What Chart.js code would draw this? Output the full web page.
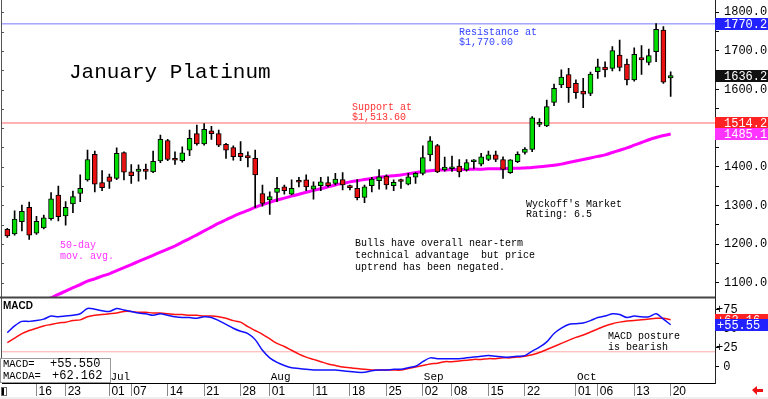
<!DOCTYPE html>
<html>
<head>
<meta charset="utf-8">
<title>January Platinum</title>
<style>
  html, body { margin: 0; padding: 0; background: #fff; }
  #wrap { position: relative; width: 768px; height: 399px; }
</style>
</head>
<body>
<div id="wrap"><canvas id="chart" width="768" height="399"></canvas></div>
<script src="https://cdn.jsdelivr.net/npm/chart.js@4/dist/chart.umd.min.js"></script>
<script>
// January platinum daily candles, Jun 10 - Oct 20, with 50-day MA and MACD
// x values are trading-day indexes (0 = Jun 10)

const opens  = [1238,1226,1258,1295,1228,1242,1266,1327,1273,1304,1331,1366,1432,1359,1374,1370,1437,1387,1388,1394,
                1387,1415,1468,1418,1416,1443,1486,1459,1493,1486,1458,1450,1435,1429,1422,1331,1314,1334,1348,1329,
                1361,1366,1342,1351,1359,1357,1367,1347,1344,1321,1351,1364,1376,1351,1363,1355,1373,1383,1431,1455,
                1392,1395,1402,1392,1413,1407,1419,1431,1419,1385,1413,1437,1445,1510,1506,1567,1612,1639,1616,1596,
                1590,1646,1658,1655,1689,1666,1625,1683,1670,1698,1754,1630];
const highs  = [1241,1286,1301,1309,1272,1275,1333,1350,1310,1337,1379,1443,1441,1390,1381,1449,1439,1406,1405,1407,
                1441,1482,1471,1439,1452,1495,1508,1512,1505,1495,1461,1454,1465,1439,1443,1353,1335,1373,1353,1366,
                1373,1379,1361,1373,1374,1383,1385,1353,1367,1353,1373,1393,1379,1366,1368,1383,1385,1454,1478,1458,
                1425,1428,1419,1419,1419,1435,1441,1441,1426,1419,1439,1450,1530,1525,1573,1614,1651,1655,1625,1629,
                1645,1679,1672,1711,1728,1679,1708,1714,1705,1771,1763,1646];
const lows   = [1217,1223,1234,1212,1225,1239,1262,1260,1249,1281,1310,1363,1335,1338,1344,1367,1366,1357,1363,1368,
                1385,1411,1416,1406,1412,1429,1456,1456,1471,1452,1422,1417,1416,1400,1295,1298,1277,1310,1329,1327,
                1348,1338,1316,1338,1348,1353,1340,1340,1314,1307,1335,1342,1342,1338,1344,1353,1357,1379,1415,1385,
                1389,1388,1374,1389,1396,1402,1416,1413,1370,1383,1411,1433,1439,1504,1504,1558,1605,1567,1577,1553,
                1584,1629,1633,1648,1648,1612,1622,1639,1664,1672,1616,1582];
const closes = [1221,1265,1285,1223,1259,1268,1317,1271,1295,1323,1344,1419,1355,1346,1362,1435,1386,1377,1394,1388,
                1414,1471,1419,1417,1436,1474,1459,1497,1486,1456,1443,1426,1426,1423,1379,1305,1323,1344,1338,1344,
                1360,1348,1351,1361,1351,1368,1353,1346,1320,1348,1368,1374,1353,1360,1362,1374,1383,1424,1467,1387,
                1399,1397,1387,1411,1415,1426,1431,1419,1393,1418,1432,1446,1527,1512,1556,1603,1632,1605,1592,1588,
                1640,1659,1651,1701,1657,1625,1691,1677,1688,1756,1619,1636.2];

// 50-day moving average
const ma50 = [1012,1021,1030,1039,1046,1054,1061,1070,1078,1087,1095,1104,1110,1117,1123,1131,1139,1147,1155,1163,
              1171,1179,1187,1195,1205,1214,1224,1234,1244,1254,1263,1272,1280,1287,1295,1302,1308,1314,1319,1324,
              1329,1334,1339,1343,1348,1353,1357,1361,1364,1367,1370,1373,1375,1377,1379,1382,1385,1388,1390,1392,
              1392,1393,1393,1393,1394,1394,1395,1395,1395,1396,1396,1397,1398,1400,1402,1404,1407,1411,1415,1419,
              1423,1427,1431,1437,1443,1449,1456,1463,1470,1476,1481,1485.1];

// MACD (blue) and its average (red)
const macd  = [45,54,60,60,61,63,67,66,67,68,70,77,76,74,73,77,75,73,71,70,
               68,70,68,66,65,65,64,66,65,61,56,51,47,44,36,22,12,6,2,-1,
               -2,-3,-4,-4,-4,-4,-5,-6,-7,-7,-5,-4,-4,-3,-3,-1,1,7,12,11,
               11,11,11,12,13,14,15,14,13,13,14,15,21,26,33,44,51,56,57,58,
               61,65,67,70,69,65,67,66,66,70,63,55.55];
const macda = [32,38,44,48,51,54,56,58,59,61,62,66,68,69,70,71,73,73,72,72,
               71,71,70,69,69,68,68,67,67,66,64,61,59,53,48,43,37,31,27,22,
               17,13,10,7,4,2,0,-1,-2,-3,-4,-4,-4,-4,-4,-2,0,2,4,5,
               7,7,8,9,10,10,11,11,12,12,13,14,16,19,23,27,31,35,39,42,
               46,50,54,57,59,60.5,61,62,63,64,64,62.162];

const resistance = 1770;
const support = 1513.6;
const macdRef = 20;

// date ticks along the bottom
const tickIdx  = [4,8,14,17,22,27,32,36,42,47,52,57,61,66,71,78,81,86,91];
const tickText = ['16','23','01','07','14','21','28','01','11','18','25','02','08','15','22','01','06','13','20'];
const monthIdx  = [14,36,57,78];
const monthText = ['Jul','Aug','Sep','Oct'];

const priceTicks = [1100,1150,1200,1250,1300,1350,1400,1450,1500,1550,1600,1650,1700,1750,1800];
const macdTicks = [0,25,50,75];

const X_MIN = -0.73, X_MAX = 97.08;
const UP = '#00dd00', DOWN = '#e81010';
const MONO = '"Liberation Mono", monospace';

Chart.defaults.font.family = MONO;
Chart.defaults.color = '#000';

const bodies = closes.map((c, i) => ({x: i, y: [opens[i], c]}));
const wicks = closes.map((c, i) => ({x: i, y: [lows[i], highs[i]]}));
const bodyColors = closes.map((c, i) => c >= opens[i] ? UP : DOWN);
const flat = (v) => [{x: X_MIN, y: v}, {x: X_MAX, y: v}];

function txt(c, s, x, y, font, color){
  c.font = font;
  c.fillStyle = color;
  c.fillText(s, x, y);
}

function tag(c, scale, value, label, bg, tx){
  const y = scale.getPixelForValue(value);
  c.fillStyle = bg;
  c.fillRect(715, Math.round(y) - 6, 53, 12);
  c.font = '12px ' + MONO;
  c.fillStyle = '#fff';
  c.textBaseline = 'middle';
  c.fillText(label, tx, Math.round(y) + 0.5);
  c.textBaseline = 'alphabetic';
}

// keep Chart.js from reserving room for half-labels at the edges
function noPad(s){
  s.paddingTop = 0; s.paddingBottom = 0; s.paddingLeft = 0; s.paddingRight = 0;
}

const overlay = {
  id: 'overlay',
  beforeDraw(chart){
    const c = chart.ctx;
    c.save();
    c.fillStyle = '#eeeeee';
    c.fillRect(0, 397, 768, 2);
    c.restore();
  },
  afterDatasetsDraw(chart){
    const c = chart.ctx;
    const xs = chart.scales.x, yp = chart.scales.yPrice;
    c.save();

    // frame: left edge and panel separator
    c.strokeStyle = '#555';
    c.lineWidth = 1;
    c.beginPath();
    c.moveTo(1.5, 0); c.lineTo(1.5, 383);
    for (const v of priceTicks){
      const y = Math.round(yp.getPixelForValue(v)) + 0.5;
      c.moveTo(1, y); c.lineTo(4, y);
    }
    c.stroke();
    c.strokeStyle = '#444';
    c.lineWidth = 2;
    c.beginPath();
    c.moveTo(0, yp.bottom); c.lineTo(715, yp.bottom);
    c.stroke();

    // annotations
    txt(c, 'January Platinum', 69, 78, '21px ' + MONO, '#000');
    txt(c, 'Resistance at', 459, 35, '10px ' + MONO, '#3344ff');
    txt(c, '$1,770.00', 459, 45, '10px ' + MONO, '#3344ff');
    txt(c, 'Support at', 352, 110, '10px ' + MONO, '#ff3333');
    txt(c, '$1,513.60', 352, 120, '10px ' + MONO, '#ff3333');
    txt(c, '50-day', 60, 248, '10px ' + MONO, '#ff33ff');
    txt(c, 'mov. avg.', 60, 259, '10px ' + MONO, '#ff33ff');
    txt(c, "Wyckoff's Market", 526, 207, '10px ' + MONO, '#000');
    txt(c, 'Rating: 6.5', 526, 217, '10px ' + MONO, '#000');
    txt(c, 'Bulls have overall near-term', 355, 246, '10px ' + MONO, '#000');
    txt(c, 'technical advantage  but price', 355, 258, '10px ' + MONO, '#000');
    txt(c, 'uptrend has been negated.', 355, 270, '10px ' + MONO, '#000');
    txt(c, 'MACD posture', 608, 339, '10px ' + MONO, '#000');
    txt(c, 'is bearish', 608, 350, '10px ' + MONO, '#000');
    txt(c, 'MACD', 3, 309, 'bold 10px "Liberation Sans", sans-serif', '#000');

    // month names inside the MACD panel
    monthIdx.forEach((d, k) => {
      txt(c, monthText[k], xs.getPixelForValue(d) + 1, 380, '11px ' + MONO, '#000');
    });

    // MACD readout box
    c.fillStyle = '#fff';
    c.fillRect(0, 358, 111, 25);
    c.strokeStyle = '#999';
    c.lineWidth = 1;
    c.strokeRect(0.5, 358.5, 110, 24);
    txt(c, 'MACD=', 3, 367, '10.5px ' + MONO, '#000');
    txt(c, '+' + macd[macd.length - 1].toFixed(3), 50, 367, '12px ' + MONO, '#000');
    txt(c, 'MACDA=', 3, 379, '10.5px ' + MONO, '#000');
    txt(c, '+' + macda[macda.length - 1].toFixed(3), 52, 379, '12px ' + MONO, '#000');
    c.restore();
  },
  afterDraw(chart){
    const c = chart.ctx;
    const yp = chart.scales.yPrice, ym = chart.scales.yMacd;
    c.save();
    tag(c, yp, 1770.2, '1770.2', '#2222ff', 724);
    tag(c, yp, closes[closes.length - 1], '1636.2', '#111', 724);
    tag(c, yp, 1514.2, '1514.2', '#ff2222', 724);
    tag(c, yp, ma50[ma50.length - 1], '1485.1', '#ff33ff', 724);
    tag(c, ym, macda[macda.length - 1], '+62.16', '#ff2222', 717);
    tag(c, ym, macd[macd.length - 1], '+55.55', '#2222ff', 717);

    // scroll glyph bottom left
    c.strokeStyle = '#666';
    c.lineWidth = 1;
    c.strokeRect(1.5, 387.5, 5, 8);
    c.fillStyle = '#000';
    c.fillRect(2, 388, 2, 7);

    // little red arrow, bottom right
    c.fillStyle = '#ee1111';
    c.beginPath();
    c.moveTo(752, 390); c.lineTo(757, 386); c.lineTo(757, 389); c.lineTo(763, 389);
    c.lineTo(763, 392); c.lineTo(757, 392); c.lineTo(757, 395); c.closePath();
    c.fill();
    c.restore();
  }
};

new Chart(document.getElementById('chart'), {
  type: 'bar',
  data: {
    datasets: [
      { type: 'bar', data: bodies, yAxisID: 'yPrice', order: 0, grouped: false,
        barThickness: 5, minBarLength: 2, backgroundColor: bodyColors,
        borderColor: '#000', borderWidth: 1, borderSkipped: false },
      { type: 'bar', data: wicks, yAxisID: 'yPrice', order: 1, grouped: false,
        barThickness: 1, backgroundColor: '#000', borderWidth: 0 },
      { type: 'line', data: ma50.map((v, i) => ({x: i, y: v})), yAxisID: 'yPrice', order: 2,
        borderColor: '#ff00ff', borderWidth: 3, pointRadius: 0, tension: 0.3 },
      { type: 'line', data: flat(resistance), yAxisID: 'yPrice', order: 3,
        borderColor: '#7777ff', borderWidth: 1, pointRadius: 0 },
      { type: 'line', data: flat(support), yAxisID: 'yPrice', order: 3,
        borderColor: '#ff9999', borderWidth: 1.5, pointRadius: 0 },
      { type: 'line', data: macd.map((v, i) => ({x: i, y: v})), yAxisID: 'yMacd', order: 0,
        borderColor: '#1111ff', borderWidth: 1.5, pointRadius: 0, tension: 0.3 },
      { type: 'line', data: macda.map((v, i) => ({x: i, y: v})), yAxisID: 'yMacd', order: 1,
        borderColor: '#ff1111', borderWidth: 1.5, pointRadius: 0, tension: 0.3 },
      { type: 'line', data: flat(macdRef), yAxisID: 'yMacd', order: 3,
        borderColor: '#ffaaaa', borderWidth: 1, pointRadius: 0 }
    ]
  },
  options: {
    responsive: false,
    animation: false,
    devicePixelRatio: 1,
    layout: { padding: { left: 2, right: 0, top: 0, bottom: 0 } },
    plugins: { legend: { display: false }, tooltip: { enabled: false }, title: { display: false } },
    scales: {
      x: {
        type: 'linear', position: 'bottom', min: X_MIN, max: X_MAX, offset: false,
        afterFit: (s) => { s.height = 16; noPad(s); },
        afterBuildTicks: (s) => { s.ticks = tickIdx.map(v => ({value: v})); },
        grid: { display: true, offset: false, drawOnChartArea: false, drawTicks: true, tickLength: 13, color: '#888', tickWidth: 1 },
        border: { display: true, color: '#000', width: 1 },
        ticks: {
          autoSkip: false, maxRotation: 0, align: 'start', labelOffset: 2, padding: -12,
          font: { family: '"Liberation Sans", sans-serif', size: 12 },
          callback: (v) => tickText[tickIdx.indexOf(v)] || ''
        }
      },
      yPrice: {
        type: 'linear', position: 'right', stack: 'panels', stackWeight: 297.5,
        min: 1061.7, max: 1831.8,
        afterFit: (s) => { s.width = 53; noPad(s); },
        afterBuildTicks: (s) => { s.ticks = priceTicks.map(v => ({value: v})); },
        grid: { display: true, drawOnChartArea: false, drawTicks: true, tickLength: 4, color: '#000' },
        border: { display: true, color: '#222', width: 1 },
        ticks: {
          autoSkip: false, padding: 5, font: { size: 12 },
          callback: (v) => v % 100 === 0 ? v.toFixed(1) : ''
        }
      },
      yMacd: {
        type: 'linear', position: 'right', stack: 'panels', stackWeight: 85.5,
        min: -21.05, max: 91.4,
        afterFit: (s) => { s.width = 53; noPad(s); },
        afterBuildTicks: (s) => { s.ticks = macdTicks.map(v => ({value: v})); },
        grid: { display: true, drawOnChartArea: false, drawTicks: true, tickLength: 4, color: '#000' },
        border: { display: true, color: '#222', width: 1 },
        ticks: {
          autoSkip: false, padding: -3, crossAlign: 'center', font: { size: 12 },
          callback: (v) => v > 0 ? '+' + v : String(v)
        }
      }
    }
  },
  plugins: [overlay]
});
</script>
</body>
</html>
